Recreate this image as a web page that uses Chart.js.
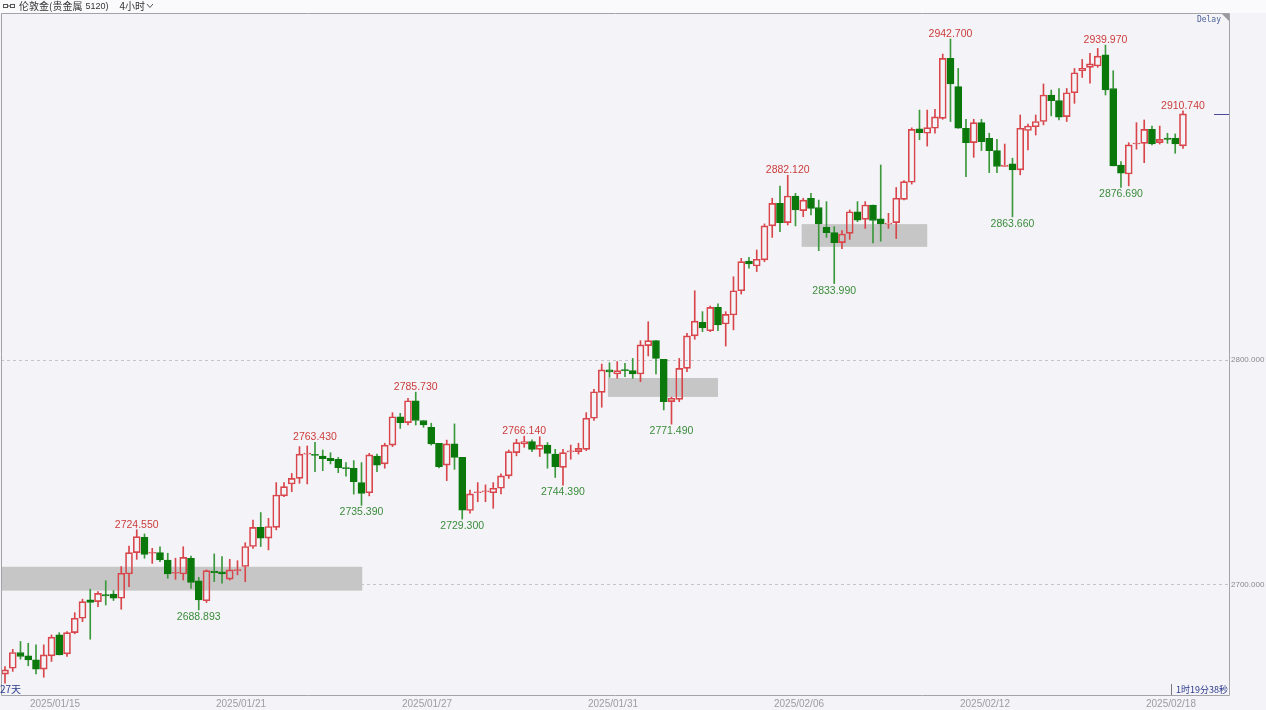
<!DOCTYPE html>
<html lang="zh">
<head>
<meta charset="UTF-8">
<title>伦敦金 4小时</title>
<script src="https://cdn.jsdelivr.net/npm/chart.js@4.4.1/dist/chart.umd.min.js"></script>
<style>
    body { margin: 0; background: #f4f4f8; }
    #wrap { width: 1266px; height: 710px; }
</style>
</head>
<body>
<div id="wrap"><canvas id="kline" width="1266" height="710"></canvas></div>
<script>
    // 4h candles
    var opens = [
        2660.4,2663.0,2670.0,2668.5,2666.7,2662.6,2668.5,2677.8,2669.4,2678.8,
        2685.2,2693.4,2692.6,2695.7,2696.0,2694.1,2704.9,2714.4,2721.2,2714.1,
        2714.4,2711.1,2705.2,2704.9,2711.9,2701.8,2693.0,2706.2,2705.9,2702.6,
        2706.4,2708.2,2717.1,2725.6,2720.8,2725.6,2739.6,2744.9,2747.4,2758.2,
        2758.1,2757.3,2756.3,2755.9,2752.1,2751.9,2745.5,2741.0,2757.3,2753.8,
        2762.2,2774.8,2772.2,2781.9,2773.1,2770.1,2763.0,2753.3,2762.7,2756.7,
        2733.1,2741.0,2741.4,2741.0,2743.0,2748.5,2758.8,2762.7,2763.7,2760.3,
        2762.2,2758.2,2752.3,2759.2,2759.3,2760.3,2774.1,2785.6,2795.6,2793.8,
        2795.6,2795.3,2793.8,2806.4,2808.6,2800.3,2781.5,2782.5,2796.3,2810.7,
        2816.8,2813.0,2823.4,2816.0,2820.0,2830.8,2844.0,2841.8,2844.5,2859.6,
        2869.6,2861.1,2872.9,2866.4,2871.9,2867.8,2859.0,2856.6,2852.2,2856.3,
        2865.9,2862.5,2868.9,2862.7,2860.4,2861.1,2871.4,2879.0,2902.8,2900.8,
        2903.0,2907.4,2934.1,2921.5,2903.0,2896.6,2905.5,2898.5,2893.1,2886.0,
        2887.2,2884.5,2902.0,2903.7,2906.0,2917.8,2915.3,2908.2,2918.8,2928.6,
        2930.1,2930.7,2935.6,2920.7,2886.7,2882.7,2896.0,2896.3,2902.5,2896.6,
        2898.7,2898.5,2895.2
    ];
    var highs = [
        2663.7,2671.4,2674.9,2674.1,2673.4,2673.4,2677.8,2678.8,2679.3,2687.7,
        2693.7,2698.1,2697.1,2701.9,2697.5,2708.2,2717.3,2724.55,2722.7,2716.3,
        2717.0,2714.1,2711.9,2717.0,2712.9,2703.4,2706.7,2713.8,2712.6,2711.4,
        2710.8,2718.8,2728.9,2732.2,2729.6,2745.5,2745.5,2749.6,2761.5,2761.8,
        2763.43,2760.0,2758.8,2756.7,2754.4,2755.3,2754.4,2758.5,2758.2,2763.0,
        2776.6,2776.3,2783.0,2785.73,2773.1,2771.9,2763.0,2764.4,2771.6,2756.7,
        2742.2,2745.5,2744.5,2745.5,2749.4,2760.0,2764.8,2766.14,2764.5,2765.9,
        2763.3,2760.3,2760.3,2762.2,2763.0,2776.6,2787.0,2798.2,2798.8,2799.3,
        2798.5,2800.7,2808.6,2817.0,2808.6,2800.3,2783.5,2800.7,2811.9,2830.8,
        2821.5,2824.0,2825.0,2821.5,2837.0,2845.2,2845.6,2848.9,2860.5,2871.9,
        2877.3,2882.12,2874.1,2871.9,2874.1,2871.1,2870.4,2859.3,2857.5,2866.7,
        2870.4,2870.4,2868.9,2886.7,2865.2,2876.7,2879.8,2903.2,2911.1,2911.1,
        2911.4,2936.0,2942.7,2929.6,2907.0,2907.0,2907.0,2900.8,2898.1,2896.0,
        2889.7,2908.9,2904.9,2908.9,2922.7,2920.0,2920.7,2920.7,2929.6,2933.6,
        2936.3,2938.5,2939.97,2928.6,2888.2,2896.6,2905.5,2906.7,2904.0,2904.0,
        2900.8,2900.5,2910.74
    ];
    var lows = [
        2656.4,2661.6,2667.0,2664.1,2660.5,2659.0,2666.0,2668.9,2668.2,2678.3,
        2683.7,2675.9,2690.4,2691.1,2693.1,2689.2,2699.3,2711.4,2711.9,2709.6,
        2710.4,2703.0,2702.5,2702.2,2698.5,2688.893,2692.2,2701.5,2700.8,2702.2,
        2704.5,2701.5,2716.3,2717.1,2715.6,2724.5,2739.3,2741.5,2745.2,2744.9,
        2750.4,2750.8,2753.8,2749.9,2748.4,2740.4,2735.39,2739.6,2750.4,2751.9,
        2761.5,2769.6,2771.1,2771.1,2770.1,2762.2,2752.0,2746.4,2751.4,2729.3,
        2731.9,2737.0,2737.0,2734.1,2740.5,2747.4,2757.4,2761.2,2759.3,2757.1,
        2751.9,2747.8,2744.39,2755.9,2758.2,2759.7,2773.1,2779.0,2792.3,2791.9,
        2792.6,2791.9,2790.4,2801.8,2793.8,2777.8,2771.49,2781.5,2794.8,2809.2,
        2812.6,2812.6,2813.0,2806.2,2813.4,2829.3,2840.8,2839.3,2843.7,2854.5,
        2857.1,2860.0,2859.6,2863.7,2864.5,2848.6,2854.5,2833.99,2849.5,2853.6,
        2861.5,2858.5,2852.0,2852.8,2858.5,2854.0,2871.2,2878.2,2897.9,2895.1,
        2900.8,2907.0,2906.0,2903.0,2881.5,2890.1,2893.1,2883.3,2883.3,2886.0,
        2863.66,2882.3,2893.4,2900.0,2904.5,2908.5,2906.7,2906.0,2914.1,2925.6,
        2923.0,2930.1,2917.8,2886.3,2876.69,2877.4,2893.7,2887.7,2895.6,2896.0,
        2896.3,2891.9,2894.1
    ];
    var closes = [
        2662.3,2670.0,2668.2,2666.7,2662.6,2668.9,2676.8,2668.9,2678.8,2685.2,
        2692.6,2692.2,2696.3,2695.1,2694.1,2705.2,2714.4,2721.5,2713.6,2714.4,
        2711.1,2704.9,2705.5,2712.3,2701.1,2693.4,2706.4,2705.5,2704.9,2706.7,
        2706.8,2717.1,2725.6,2720.8,2726.0,2740.0,2743.7,2747.4,2758.2,2758.5,
        2757.6,2756.2,2755.3,2752.2,2751.7,2745.9,2740.7,2757.8,2753.3,2762.2,
        2774.8,2772.2,2781.9,2773.1,2771.1,2762.7,2752.6,2762.7,2756.7,2733.3,
        2740.5,2741.2,2741.6,2743.0,2748.5,2759.3,2763.3,2763.7,2760.3,2762.2,
        2758.5,2752.6,2758.8,2759.4,2760.7,2774.1,2785.9,2795.6,2794.7,2795.3,
        2795.3,2793.8,2806.7,2808.6,2800.7,2781.5,2783.0,2796.3,2810.7,2817.3,
        2814.3,2823.4,2815.6,2820.3,2830.8,2843.7,2842.7,2844.8,2859.6,2869.6,
        2861.1,2872.9,2866.7,2871.1,2867.4,2860.5,2856.6,2852.2,2856.0,2865.9,
        2862.2,2868.9,2862.0,2860.5,2860.9,2871.9,2879.3,2902.5,2901.1,2903.3,
        2908.1,2934.1,2922.7,2903.0,2896.6,2905.5,2897.1,2893.1,2886.0,2886.7,
        2884.5,2903.0,2904.0,2906.0,2917.8,2915.3,2907.9,2918.8,2927.7,2929.6,
        2931.6,2935.1,2920.0,2886.3,2883.0,2895.6,2896.3,2902.5,2896.0,2898.1,
        2898.1,2896.0,2909.4
    ];

    // axis ticks
    var dateTickIdx = [6, 30, 54, 78, 102, 126, 150];
    var dateTickText = ['2025/01/15', '2025/01/21', '2025/01/27', '2025/01/31', '2025/02/06', '2025/02/12', '2025/02/18'];
    var priceTicks = [2700, 2800];

    // marked swing highs / lows (candle index)
    var peakIdx = [17, 40, 53, 67, 101, 122, 142, 152];
    var troughIdx = [25, 46, 59, 72, 86, 107, 130, 144];

    // grey zones: candle-index span and price span
    var zoneFrom = [-0.52, 77.8, 102.8];
    var zoneTo = [46.1, 92.0, 119.0];
    var zoneLow = [2697.5, 2783.6, 2850.3];
    var zoneHigh = [2708.1, 2792.0, 2860.4];

    var UP = '#d8454b';
    var DOWN = '#0b780b';
    var DOWN_WICK = '#3c983c';
    var BG = '#f4f4f8';

    var isUp = closes.map(function(c, i) { return c >= opens[i]; });

    var bodyData = opens.map(function(o, i) { return {x: i, y: [o, closes[i]]}; });
    var upperWick = opens.map(function(o, i) { return {x: i, y: [Math.max(o, closes[i]), highs[i]]}; });
    var lowerWick = opens.map(function(o, i) { return {x: i, y: [lows[i], Math.min(o, closes[i])]}; });
    var wickColors = isUp.map(function(u) { return u ? UP : DOWN_WICK; });

    var decor = {
        id: 'decor',
        beforeDraw: function(chart) {
            var ctx = chart.ctx;
            ctx.save();
            ctx.fillStyle = BG;
            ctx.fillRect(0, 0, chart.width, chart.height);
            ctx.fillStyle = '#fafafc';
            ctx.fillRect(0, 0, chart.width, 13);
            ctx.restore();
        },
        beforeDatasetsDraw: function(chart) {
            var ctx = chart.ctx, xs = chart.scales.x, ys = chart.scales.y, area = chart.chartArea;
            ctx.save();
            ctx.fillStyle = '#c6c6c6';
            for (var k = 0; k < zoneFrom.length; k++) {
                var x0 = Math.max(area.left, xs.getPixelForValue(zoneFrom[k]));
                var x1 = xs.getPixelForValue(zoneTo[k]);
                var y0 = ys.getPixelForValue(zoneHigh[k]);
                var y1 = ys.getPixelForValue(zoneLow[k]);
                ctx.fillRect(x0, y0, x1 - x0, y1 - y0);
            }
            ctx.restore();
        },
        afterDraw: function(chart) {
            var ctx = chart.ctx, xs = chart.scales.x, ys = chart.scales.y, area = chart.chartArea;
            ctx.save();

            // frame
            ctx.strokeStyle = '#a4a4a8';
            ctx.lineWidth = 1;
            ctx.beginPath();
            ctx.moveTo(1.5, 13.5); ctx.lineTo(area.right + 0.5, 13.5);
            ctx.lineTo(area.right + 0.5, area.bottom + 0.5); ctx.lineTo(1.5, area.bottom + 0.5);
            ctx.closePath();
            ctx.stroke();

            // swing labels
            ctx.font = '10.5px "Liberation Sans", Arial, sans-serif';
            ctx.textAlign = 'center';
            ctx.textBaseline = 'alphabetic';
            ctx.fillStyle = '#cc3c3c';
            peakIdx.forEach(function(i) {
                ctx.fillText(highs[i].toFixed(3), xs.getPixelForValue(i), ys.getPixelForValue(highs[i]) - 2);
            });
            ctx.fillStyle = '#3b8c3b';
            troughIdx.forEach(function(i) {
                ctx.fillText(lows[i].toFixed(3), xs.getPixelForValue(i), ys.getPixelForValue(lows[i]) + 10);
            });

            // last price marker
            var last = closes[closes.length - 1];
            var ly = Math.round(ys.getPixelForValue(last)) + 0.5;
            ctx.strokeStyle = '#4a4a98';
            ctx.beginPath(); ctx.moveTo(area.right - 15, ly); ctx.lineTo(area.right, ly); ctx.stroke();

            // corner flag + Delay
            ctx.fillStyle = '#9a9a9e';
            ctx.beginPath();
            ctx.moveTo(area.right - 7, 14); ctx.lineTo(area.right, 14); ctx.lineTo(area.right, 21);
            ctx.closePath(); ctx.fill();
            ctx.font = '8px "DejaVu Sans Mono", monospace';
            ctx.fillStyle = '#4a5f95';
            ctx.textAlign = 'right';
            ctx.textBaseline = 'middle';
            ctx.fillText('Delay', area.right - 8, 20);

            // header
            ctx.strokeStyle = '#555';
            ctx.lineWidth = 1;
            ctx.strokeRect(3.5, 4.5, 4, 3);
            ctx.strokeRect(10.5, 4.5, 4, 3);
            ctx.beginPath(); ctx.moveTo(7.5, 6); ctx.lineTo(10.5, 6); ctx.stroke();
            ctx.textAlign = 'left';
            ctx.fillStyle = '#333';
            var hx = 19;
            ctx.font = '10px "Noto Sans CJK SC", sans-serif';
            ctx.fillText('伦敦金(贵金属', hx, 6.5);
            hx += ctx.measureText('伦敦金(贵金属').width + 3;
            ctx.font = '9px "Liberation Sans", sans-serif';
            ctx.fillText('5120)', hx, 6.5);
            hx += ctx.measureText('5120)').width + 11;
            ctx.font = '10px "Noto Sans CJK SC", sans-serif';
            ctx.fillText('4小时', hx, 6.5);
            hx += ctx.measureText('4小时').width + 2;
            ctx.beginPath(); ctx.moveTo(hx, 4); ctx.lineTo(hx + 3, 7.5); ctx.lineTo(hx + 6, 4); ctx.stroke();

            // bottom status texts
            ctx.fillStyle = '#2b3a8c';
            ctx.font = '10px "Noto Sans CJK SC", sans-serif';
            ctx.fillText('27天', 0, 689);
            ctx.font = '9px "Noto Sans CJK SC", sans-serif';
            ctx.textAlign = 'right';
            ctx.fillText('1时19分38秒', area.right - 1, 690);
            ctx.strokeStyle = '#777';
            ctx.beginPath(); ctx.moveTo(1171.5, 684); ctx.lineTo(1171.5, 695); ctx.stroke();

            ctx.restore();
        }
    };

    var ctx = document.getElementById('kline').getContext('2d');
    var klineChart = new Chart(ctx, {
        type: 'bar',
        data: {
            datasets: [
                {
                    data: upperWick,
                    backgroundColor: wickColors,
                    borderWidth: 0,
                    barThickness: 1,
                    grouped: false,
                    order: 3
                },
                {
                    data: lowerWick,
                    backgroundColor: wickColors,
                    borderWidth: 0,
                    barThickness: 1,
                    grouped: false,
                    order: 2
                },
                {
                    data: bodyData,
                    backgroundColor: isUp.map(function(u) { return u ? 'rgba(0,0,0,0)' : DOWN; }),
                    borderColor: isUp.map(function(u) { return u ? UP : DOWN; }),
                    borderWidth: 1,
                    borderSkipped: false,
                    barThickness: 7,
                    minBarLength: 1,
                    grouped: false,
                    order: 1
                }
            ]
        },
        options: {
            responsive: false,
            animation: false,
            layout: { padding: { left: 1, top: 14, right: 0, bottom: 0 } },
            plugins: {
                legend: { display: false },
                tooltip: { enabled: false }
            },
            scales: {
                x: {
                    type: 'linear',
                    min: -0.516,
                    max: 157.94,
                    offset: false,
                    grid: { display: false, drawTicks: false },
                    border: { display: false },
                    afterBuildTicks: function(scale) {
                        scale.ticks = dateTickIdx.map(function(v) { return {value: v}; });
                    },
                    afterFit: function(scale) { scale.height = 15; },
                    ticks: {
                        autoSkip: false,
                        maxRotation: 0,
                        padding: 3,
                        labelOffset: 3.5,
                        color: '#9c9ca0',
                        font: { family: '"Liberation Sans", Arial, sans-serif', size: 10 },
                        callback: function(v) {
                            var k = dateTickIdx.indexOf(v);
                            return k >= 0 ? dateTickText[k] : null;
                        }
                    }
                },
                y: {
                    type: 'linear',
                    position: 'right',
                    min: 2651.1,
                    max: 2953.8,
                    afterBuildTicks: function(scale) {
                        scale.ticks = priceTicks.map(function(v) { return {value: v}; });
                    },
                    afterFit: function(scale) { scale.width = 37; },
                    grid: { color: '#c4c4c8', drawTicks: false },
                    border: { display: false, dash: [3, 3] },
                    ticks: {
                        padding: 2,
                        color: '#8a8a8e',
                        font: { family: '"Liberation Sans", Arial, sans-serif', size: 8 },
                        callback: function(v) { return v.toFixed(3); }
                    }
                }
            }
        },
        plugins: [decor]
    });
</script>
</body>
</html>
